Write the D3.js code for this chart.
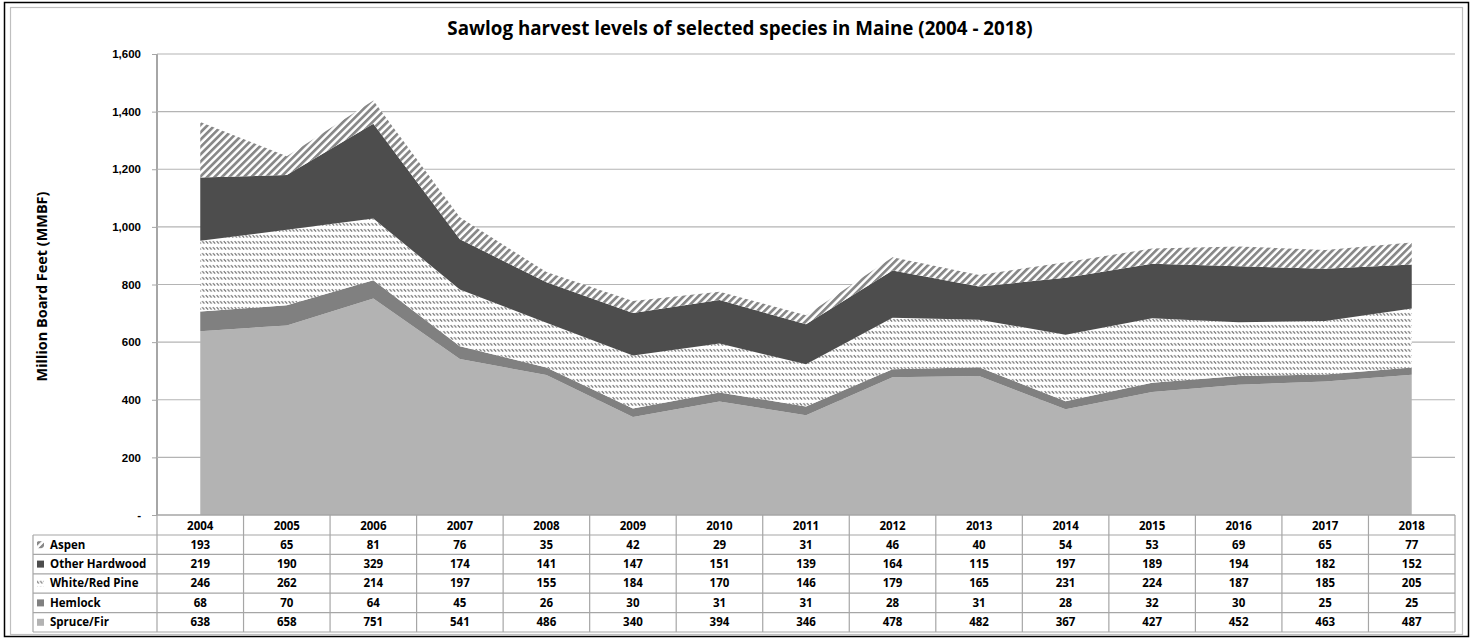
<!DOCTYPE html>
<html>
<head>
<meta charset="utf-8">
<script src="https://cdn.jsdelivr.net/npm/d3@7"></script>
<style>
  body { margin: 0; background: #fff; }
  svg { display: block; font-family: "Open Sans", Lato, sans-serif; }
</style>
</head>
<body>
<div id="chart"></div>
<script>
// data
const years = ["2004", "2005", "2006", "2007", "2008", "2009", "2010", "2011", "2012", "2013", "2014", "2015", "2016", "2017", "2018"];
const spruceFir = [638, 658, 751, 541, 486, 340, 394, 346, 478, 482, 367, 427, 452, 463, 487];
const hemlock = [68, 70, 64, 45, 26, 30, 31, 31, 28, 31, 28, 32, 30, 25, 25];
const whiteRedPine = [246, 262, 214, 197, 155, 184, 170, 146, 179, 165, 231, 224, 187, 185, 205];
const otherHardwood = [219, 190, 329, 174, 141, 147, 151, 139, 164, 115, 197, 189, 194, 182, 152];
const aspen = [193, 65, 81, 76, 35, 42, 29, 31, 46, 40, 54, 53, 69, 65, 77];
const seriesNames = ["Spruce/Fir", "Hemlock", "White/Red Pine", "Other Hardwood", "Aspen"];
const yTicks = [0, 200, 400, 600, 800, 1000, 1200, 1400, 1600];

const width = 1471, height = 638;
const margin = { top: 54, left: 157, right: 16, bottom: 123 };
const rowH = 19.4, headerH = 20;
const fs = 11.5; // table / tick font size

const seriesData = [spruceFir, hemlock, whiteRedPine, otherHardwood, aspen];
const table = years.map((yr, i) => {
  const row = { year: yr };
  seriesNames.forEach((n, k) => (row[n] = seriesData[k][i]));
  return row;
});

const svg = d3.select("#chart").append("svg")
  .attr("width", width).attr("height", height);

// patterns
const defs = svg.append("defs");
const aspenPat = defs.append("pattern")
  .attr("id", "aspen").attr("patternUnits", "userSpaceOnUse")
  .attr("width", 5.2).attr("height", 5.2)
  .attr("patternTransform", "rotate(45)");
aspenPat.append("rect").attr("width", 5.2).attr("height", 5.2).attr("fill", "#fff");
aspenPat.append("rect").attr("width", 2.7).attr("height", 5.2).attr("fill", "#888");

const pinePat = defs.append("pattern")
  .attr("id", "pine").attr("patternUnits", "userSpaceOnUse")
  .attr("width", 3.6).attr("height", 6);
pinePat.append("rect").attr("width", 3.6).attr("height", 6).attr("fill", "#fff");
pinePat.append("line")
  .attr("x1", 0.6).attr("y1", 1.2).attr("x2", 2.8).attr("y2", 3.6)
  .attr("stroke", "#6f6f6f").attr("stroke-width", 1.2);

const fills = {
  "Spruce/Fir": "#b3b3b3",
  "Hemlock": "#808080",
  "White/Red Pine": "url(#pine)",
  "Other Hardwood": "#4d4d4d",
  "Aspen": "url(#aspen)"
};

// frames
svg.append("rect").attr("x", 4.5).attr("y", 2.5).attr("width", 1464).attr("height", 634)
  .attr("fill", "none").attr("stroke", "#000").attr("stroke-width", 1.5);
svg.append("rect").attr("x", 10.5).attr("y", 7.5).attr("width", 1452).attr("height", 627)
  .attr("fill", "none").attr("stroke", "#bfbfbf").attr("stroke-width", 1.2);

const x = d3.scaleBand().domain(years)
  .range([margin.left, width - margin.right]).padding(0);
const y = d3.scaleLinear().domain([0, 1600])
  .range([height - margin.bottom, margin.top]);

// gridlines + y axis
const yAxis = svg.append("g")
  .attr("transform", `translate(${margin.left},0)`)
  .call(d3.axisLeft(y).tickValues(yTicks)
    .tickSize(5).tickPadding(11)
    .tickFormat(d => d === 0 ? "-" : d3.format(",")(d)));
yAxis.select(".domain").attr("stroke", "#a6a6a6").attr("stroke-width", 2)
  .attr("d", `M0,${y(0)}V${y(1600)}`);
yAxis.selectAll(".tick line").attr("stroke", "#a6a6a6");
yAxis.selectAll(".tick text").attr("font-size", fs).attr("font-weight", "bold").attr("fill", "#000");

svg.append("g").selectAll("line")
  .data(yTicks.filter(d => d > 0))
  .join("line")
  .attr("x1", margin.left).attr("x2", width - margin.right)
  .attr("y1", d => y(d)).attr("y2", d => y(d))
  .attr("stroke", "#b4b4b4").attr("stroke-width", 1.2);

// stacked areas
const stack = d3.stack().keys(seriesNames);
const layers = stack(table);
const area = d3.area()
  .x(d => x(d.data.year) + x.bandwidth() / 2)
  .y0(d => y(d[0]))
  .y1(d => y(d[1]));

svg.append("g").selectAll("path")
  .data(layers)
  .join("path")
  .attr("fill", d => fills[d.key])
  .attr("d", area);

// axis baseline
svg.append("line")
  .attr("x1", margin.left).attr("x2", width - margin.right)
  .attr("y1", y(0)).attr("y2", y(0))
  .attr("stroke", "#a6a6a6").attr("stroke-width", 1.5);

// data table
const tableTop = y(0);
const labelLeft = 33;
const rowsOrder = ["Aspen", "Other Hardwood", "White/Red Pine", "Hemlock", "Spruce/Fir"];
const tbl = svg.append("g");
const gridColor = "#a6a6a6";

// header year labels
tbl.selectAll("text.yr")
  .data(years)
  .join("text")
  .attr("class", "yr")
  .attr("x", d => x(d) + x.bandwidth() / 2)
  .attr("y", tableTop + headerH / 2 + 5)
  .attr("text-anchor", "middle")
  .attr("font-size", fs).attr("font-weight", "bold")
  .text(d => d);

const bodyTop = tableTop + headerH;
const bodyBottom = bodyTop + rowH * rowsOrder.length;

// column separators
tbl.selectAll("line.col")
  .data(years.concat(["end"]))
  .join("line")
  .attr("class", "col")
  .attr("x1", d => d === "end" ? x.range()[1] : x(d))
  .attr("x2", d => d === "end" ? x.range()[1] : x(d))
  .attr("y1", tableTop).attr("y2", bodyBottom)
  .attr("stroke", gridColor).attr("stroke-width", 1.2);

// row separators
tbl.selectAll("line.row")
  .data(d3.range(rowsOrder.length + 1))
  .join("line")
  .attr("class", "row")
  .attr("x1", labelLeft).attr("x2", x.range()[1])
  .attr("y1", i => bodyTop + i * rowH).attr("y2", i => bodyTop + i * rowH)
  .attr("stroke", gridColor).attr("stroke-width", 1.2);
tbl.append("line")
  .attr("x1", labelLeft).attr("x2", labelLeft)
  .attr("y1", bodyTop).attr("y2", bodyBottom)
  .attr("stroke", gridColor).attr("stroke-width", 1.2);

const rows = tbl.selectAll("g.r")
  .data(rowsOrder)
  .join("g")
  .attr("class", "r")
  .attr("transform", (d, i) => `translate(0,${bodyTop + i * rowH})`);

rows.append("rect")
  .attr("x", labelLeft + 4).attr("y", rowH / 2 - 3.5)
  .attr("width", 7).attr("height", 7)
  .attr("fill", d => fills[d]);

rows.append("text")
  .attr("x", labelLeft + 17).attr("y", rowH / 2 + 4)
  .attr("font-size", fs).attr("font-weight", "bold")
  .text(d => d);

rows.selectAll("text.v")
  .data(k => table.map(r => ({ year: r.year, v: r[k] })))
  .join("text")
  .attr("class", "v")
  .attr("x", d => x(d.year) + x.bandwidth() / 2)
  .attr("y", rowH / 2 + 4)
  .attr("text-anchor", "middle")
  .attr("font-size", fs).attr("font-weight", "bold")
  .text(d => d.v);

// title
const title = svg.append("text")
  .attr("x", 740).attr("y", 35)
  .attr("text-anchor", "middle")
  .attr("font-size", 15).attr("font-weight", "bold")
  .text("Sawlog harvest levels of selected species in Maine (2004 - 2018)");
const tw = title.node().getComputedTextLength();
title.attr("font-size", 15 * 586 / tw);

// y axis label
const ylab = svg.append("text")
  .attr("transform", `translate(47,${(y(0) + y(1600)) / 2 + 2}) rotate(-90)`)
  .attr("text-anchor", "middle")
  .attr("font-size", 13).attr("font-weight", "bold")
  .text("Million Board Feet (MMBF)");
const lw = ylab.node().getComputedTextLength();
ylab.attr("font-size", 13 * 190 / lw);
</script>
</body>
</html>
